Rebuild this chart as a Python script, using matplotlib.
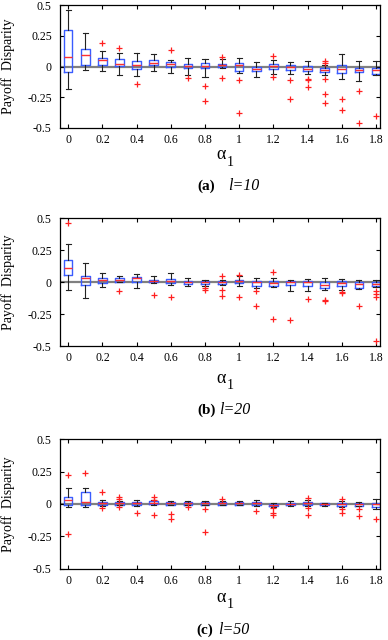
import numpy as np
import matplotlib.pyplot as plt

plt.rcParams['font.family'] = ['Liberation Serif', 'DejaVu Serif']
plt.rcParams['mathtext.fontset'] = 'stix'

alpha = [0.0, 0.1, 0.2, 0.3, 0.4, 0.5, 0.6, 0.7, 0.8, 0.9,
         1.0, 1.1, 1.2, 1.3, 1.4, 1.5, 1.6, 1.7, 1.8]
xtick_vals = [0, 0.2, 0.4, 0.6, 0.8, 1, 1.2, 1.4, 1.6, 1.8]
xtick_labels = ['0', '0.2', '0.4', '0.6', '0.8', '1', '1.2', '1.4', '1.6', '1.8']
ytick_vals = [-0.5, -0.25, 0, 0.25, 0.5]
ytick_labels = ['-0.5', '-0.25', '0', '0.25', '0.5']

# (a) l=10
a_whislo = [-0.18, -0.03, -0.04, -0.066, -0.074, -0.04, -0.052, -0.066, -0.085, -0.014,
            -0.052, -0.085, -0.058, -0.058, -0.058, -0.07, -0.10, -0.12, -0.07]
a_q1 = [-0.047, 0.014, 0.01, 0.003, -0.02, 0.01, -0.005, -0.014, -0.01, -0.005,
        -0.033, -0.033, -0.02, -0.025, -0.033, -0.041, -0.052, -0.047, -0.058]
a_med = [0.08, 0.096, 0.05, 0.02, 0.016, 0.03, 0.022, 0.008, 0.008, 0.016,
         0.014, -0.016, 0.003, -0.003, -0.016, -0.027, -0.016, -0.025, -0.025]
a_q3 = [0.30, 0.145, 0.07, 0.058, 0.044, 0.052, 0.04, 0.022, 0.025, 0.022,
        0.025, -0.003, 0.022, 0.01, 0.005, -0.011, 0.01, -0.011, -0.011]
a_whishi = [0.46, 0.27, 0.126, 0.113, 0.113, 0.104, 0.05, 0.07, 0.058, 0.058,
            0.07, 0.036, 0.055, 0.038, 0.044, 0.016, 0.10, 0.044, 0.044]
a_fliers = [[], [], [0.195], [0.154], [-0.14], [], [0.132], [-0.09],
            [-0.157, -0.28], [0.077, -0.09], [-0.11, -0.38], [], [0.085, -0.085],
            [-0.11, -0.264], [-0.10, -0.11, -0.17],
            [0.047, 0.033, -0.10, -0.225, -0.30], [-0.26, -0.357],
            [-0.195, -0.46], [-0.40]]

# (b) l=20
b_whislo = [-0.059, -0.12, -0.04, 0.005, -0.045, -0.008, -0.019, -0.03, -0.032, -0.019,
            -0.03, -0.048, -0.035, -0.067, -0.072, -0.061, -0.059, -0.053, -0.04]
b_q1 = [0.053, -0.019, -0.005, 0.005, 0.005, 0.0, -0.005, -0.013, -0.013, -0.013,
        -0.005, -0.027, -0.027, -0.024, -0.027, -0.043, -0.027, -0.045, -0.03]
b_med = [0.112, 0.03, 0.019, 0.021, 0.03, 0.013, 0.013, 0.0, 0.0, 0.0,
         0.008, 0.0, -0.003, 0.0, 0.0, -0.019, -0.005, -0.013, -0.013]
b_q3 = [0.174, 0.048, 0.035, 0.035, 0.04, 0.021, 0.027, 0.008, 0.008, 0.011,
        0.019, 0.008, 0.008, 0.008, 0.008, 0.003, 0.008, 0.0, 0.0]
b_whishi = [0.30, 0.147, 0.072, 0.048, 0.061, 0.045, 0.072, 0.032, 0.021, 0.021,
            0.045, 0.032, 0.032, 0.021, 0.024, 0.032, 0.027, 0.021, 0.019]
b_fliers = [[0.46], [], [], [-0.067], [], [-0.10], [-0.115], [], [-0.048, -0.059],
            [0.045, -0.061, -0.11], [0.059, -0.115], [-0.072, -0.187],
            [0.078, -0.29], [-0.294], [-0.134], [-0.142, -0.147],
            [-0.075, -0.086], [-0.187], [-0.067, -0.094, -0.112, -0.46]]

# (c) l=50
c_whislo = [-0.026, -0.021, -0.013, -0.01, -0.016, -0.008, -0.01, -0.01, -0.01, -0.01,
            -0.01, -0.016, -0.021, -0.016, -0.016, -0.018, -0.026, -0.018, -0.036]
c_q1 = [-0.01, -0.01, -0.008, -0.005, -0.008, 0.0, -0.005, -0.005, -0.008, -0.005,
        -0.005, -0.01, -0.016, -0.01, -0.008, -0.01, -0.013, -0.013, -0.026]
c_med = [0.029, 0.016, 0.01, 0.008, 0.01, 0.01, 0.005, 0.005, 0.005, 0.005,
         0.008, 0.005, -0.005, 0.003, 0.01, -0.003, 0.0, 0.0, 0.0]
c_q3 = [0.055, 0.089, 0.018, 0.016, 0.018, 0.021, 0.013, 0.016, 0.013, 0.013,
        0.016, 0.016, 0.003, 0.01, 0.018, 0.005, 0.01, 0.01, 0.01]
c_whishi = [0.122, 0.122, 0.031, 0.026, 0.031, 0.031, 0.021, 0.026, 0.021, 0.024,
            0.026, 0.031, 0.008, 0.021, 0.031, 0.01, 0.021, 0.018, 0.042]
c_fliers = [[0.22, -0.229], [0.237], [0.096, -0.034], [0.052, 0.039, -0.026],
            [-0.073], [0.052, 0.034, -0.086], [-0.08, -0.115], [-0.026],
            [-0.042, -0.216], [0.042], [], [-0.052], [-0.034, -0.073, -0.086],
            [], [0.05, -0.034, -0.083], [], [0.039, -0.042, -0.073],
            [-0.042, -0.094], [-0.112]]

tags = ['(a)', '(b)', '(c)']
captions = ['l=10', 'l=20', 'l=50']

panels = [
    (a_whislo, a_q1, a_med, a_q3, a_whishi, a_fliers),
    (b_whislo, b_q1, b_med, b_q3, b_whishi, b_fliers),
    (c_whislo, c_q1, c_med, c_q3, c_whishi, c_fliers),
]
# figure layout (fractions)
ax_bottom = [0.800, 0.459, 0.111]
ax_height = [0.192, 0.200, 0.203]
alpha_y = [0.758, 0.409, 0.067]
cap_y = [0.709, 0.359, 0.016]
tag_right = [0.554, 0.557, 0.549]
cap_left = [0.588, 0.564, 0.562]

fig = plt.figure(figsize=(3.88, 6.4), dpi=100)

for i, (wlo, q1, med, q3, whi, fl) in enumerate(panels):
    ax = fig.add_axes([0.155, ax_bottom[i], 0.825, ax_height[i]])
    stats = []
    for k in range(len(alpha)):
        stats.append({'whislo': wlo[k], 'q1': q1[k], 'med': med[k], 'q3': q3[k],
                      'whishi': whi[k], 'fliers': fl[k]})
    ax.axhline(0, color='#808080', lw=1.6, zorder=1)
    ax.bxp(stats, positions=alpha, widths=0.05, manage_ticks=False,
           boxprops=dict(color='#3a5cff', lw=1.0),
           medianprops=dict(color='#ff3030', lw=1.0),
           whiskerprops=dict(color='#222222', lw=0.8),
           capprops=dict(color='#222222', lw=0.8),
           capwidths=0.03,
           flierprops=dict(marker='+', markeredgecolor='#ff2020',
                           markersize=5, markeredgewidth=0.9, linestyle='none'))
    ax.set_xlim(-0.047, 1.825)
    ax.set_ylim(-0.5, 0.5)
    ax.set_xticks(xtick_vals)
    ax.set_xticklabels(xtick_labels)
    ax.set_yticks(ytick_vals)
    ax.set_yticklabels(ytick_labels)
    ax.tick_params(direction='in', top=True, right=True, labelsize=8.5,
                   length=3, width=0.8)
    ax.tick_params(axis='y', pad=6)
    ax.tick_params(axis='x', pad=4)
    for s in ax.spines.values():
        s.set_linewidth(0.9)
    ax.set_ylabel('Payoff  Disparity', fontsize=10)
    ax.yaxis.set_label_coords(-0.14, 0.5)
    fig.text(0.570, alpha_y[i], '\u03b1', fontsize=13, ha='center', va='center')
    fig.text(0.593, alpha_y[i] - 0.012, '1', fontsize=10, ha='center', va='center')
    fig.text(tag_right[i], cap_y[i], tags[i], fontsize=11, fontweight='bold',
             ha='right', va='center')
    fig.text(cap_left[i], cap_y[i], captions[i], fontsize=11.5, style='italic',
             ha='left', va='center')

fig.savefig('out.png', dpi=100)
